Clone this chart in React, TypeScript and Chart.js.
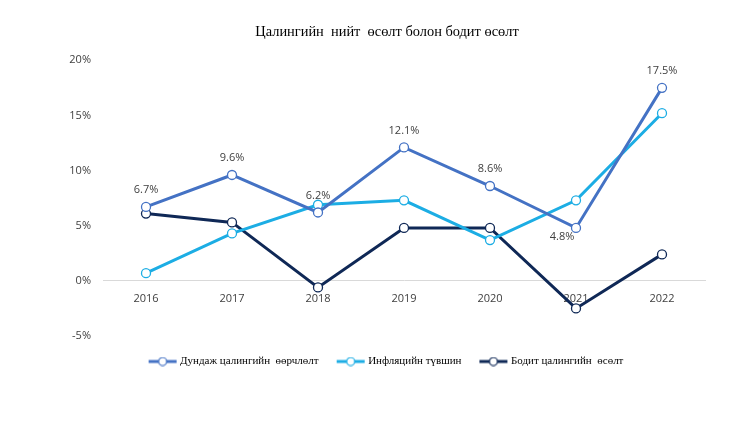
import React, { useEffect, useRef } from "react";
import { Chart, registerables } from "chart.js";

Chart.register(...registerables);

const years = ["2016", "2017", "2018", "2019", "2020", "2021", "2022"];
const wageChange = [6.7, 9.6, 6.2, 12.1, 8.6, 4.8, 17.5];
const inflation = [0.7, 4.3, 6.9, 7.3, 3.7, 7.3, 15.2];
const realWageGrowth = [6.1, 5.3, -0.6, 4.8, 4.8, -2.5, 2.4];
const seriesNames = [
  "Дундаж цалингийн  өөрчлөлт",
  "Инфляцийн түвшин",
  "Бодит цалингийн  өсөлт",
];
const titleText = "Цалингийн  нийт  өсөлт болон бодит өсөлт";
const labelBelowYears = ["2021"];
const colors = ["#4472C4", "#1CADE4", "#0F2856"];

function legendIcon(color: string): HTMLCanvasElement {
  const c = document.createElement("canvas");
  c.width = 30;
  c.height = 10;
  const ctx = c.getContext("2d")!;
  ctx.strokeStyle = color;
  ctx.lineWidth = 3;
  ctx.beginPath();
  ctx.moveTo(1, 5);
  ctx.lineTo(29, 5);
  ctx.stroke();
  ctx.beginPath();
  ctx.arc(15, 5, 4, 0, Math.PI * 2);
  ctx.fillStyle = "#ffffff";
  ctx.fill();
  ctx.lineWidth = 1.2;
  ctx.stroke();
  return c;
}

const valueLabels = {
  id: "valueLabels",
  afterDatasetsDraw(chart: any) {
    const meta = chart.getDatasetMeta(0);
    const ctx = chart.ctx;
    ctx.save();
    ctx.font = "11px 'Open Sans', sans-serif";
    ctx.fillStyle = "#404040";
    ctx.textAlign = "center";
    ctx.textBaseline = "middle";
    meta.data.forEach((pt: any, i: number) => {
      const text = wageChange[i].toFixed(1) + "%";
      if (labelBelowYears.includes(years[i])) {
        ctx.fillText(text, pt.x - 14, pt.y + 9);
      } else {
        ctx.fillText(text, pt.x, pt.y - 17);
      }
    });
    ctx.restore();
  },
};

export default function App() {
  const ref = useRef<HTMLCanvasElement>(null);
  useEffect(() => {
    document.body.style.margin = "0";
    const mk = (label: string, data: number[], color: string) => ({
      label,
      data,
      borderColor: color,
      backgroundColor: color,
      borderWidth: 3,
      pointRadius: 4.5,
      pointHoverRadius: 4.5,
      pointBackgroundColor: "#ffffff",
      pointBorderColor: color,
      pointBorderWidth: 1.3,
      pointStyle: "circle",
      tension: 0,
    });
    const chart = new Chart(ref.current!, {
      type: "line",
      data: {
        labels: years,
        datasets: [
          mk(seriesNames[0], wageChange, colors[0]),
          mk(seriesNames[1], inflation, colors[1]),
          mk(seriesNames[2], realWageGrowth, colors[2]),
        ],
      },
      options: {
        animation: false,
        responsive: false,
        layout: { padding: { left: 69, right: 47, top: 0, bottom: 59 } },
        plugins: {
          title: {
            display: true,
            text: titleText,
            color: "#000000",
            font: { family: "'Liberation Serif', 'Times New Roman', serif", size: 14.4, weight: "normal" },
            padding: { top: 24, bottom: 19 },
          },
          legend: {
            position: "bottom",
            labels: {
              usePointStyle: true,
              pointStyleWidth: 24,
              padding: 20,
              color: "#000000",
              font: { family: "'Liberation Serif', 'Times New Roman', serif", size: 11 },
              generateLabels: (ch: any) =>
                ch.data.datasets.map((ds: any, i: number) => ({
                  text: ds.label,
                  pointStyle: legendIcon(colors[i]),
                  fillStyle: colors[i],
                  strokeStyle: colors[i],
                  lineWidth: 0,
                  hidden: false,
                  datasetIndex: i,
                  fontColor: "#000000",
                })),
            },
          },
          tooltip: { enabled: false },
        },
        scales: {
          x: {
            position: { y: 0 } as any,
            offset: true,
            grid: { display: false, drawTicks: false, offset: true },
            border: { display: true, color: "#D9D9D9", width: 1 },
            ticks: {
              color: "#404040",
              font: { family: "'Open Sans', sans-serif", size: 11 },
              padding: 11,
            },
          },
          y: {
            min: -5,
            max: 20,
            grid: { display: false, drawTicks: false },
            border: { display: false },
            ticks: {
              stepSize: 5,
              color: "#404040",
              font: { family: "'Open Sans', sans-serif", size: 11 },
              padding: 12,
              callback: (v: any) => v + "%",
            },
            afterFit: (s: any) => {
              s.width = 34;
            },
          },
        },
      },
      plugins: [valueLabels],
    });
    return () => chart.destroy();
  }, []);
  return (
    <div style={{ width: 752, height: 436, background: "#ffffff" }}>
      <canvas ref={ref} width={752} height={436} style={{ display: "block" }} />
    </div>
  );
}
